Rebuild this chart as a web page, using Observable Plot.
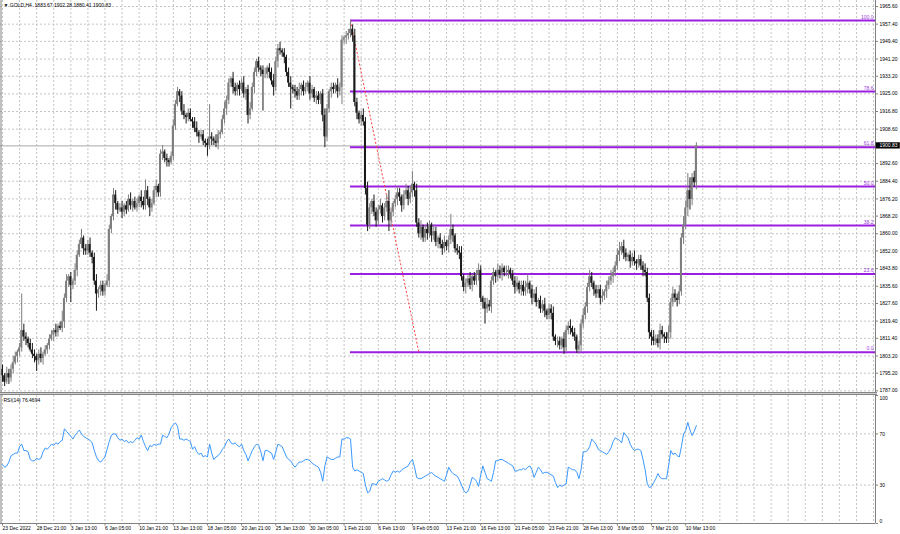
<!DOCTYPE html>
<html><head><meta charset="utf-8">
<script src="https://cdn.jsdelivr.net/npm/d3@7"></script>
<script src="https://cdn.jsdelivr.net/npm/@observablehq/plot@0.6"></script>
<style>
body{margin:0;background:#fff;}
#wrap{position:relative;width:900px;height:534px;overflow:hidden;background:#fff;}
#main{position:absolute;left:0;top:0;}
#rsi{position:absolute;left:0;top:395px;}
#sep{position:absolute;left:0;top:392px;width:877px;height:1px;border-top:1px solid #858585;border-bottom:1px solid #858585;background:#cfcfcf;}
</style></head>
<body><div id="wrap"><div id="main"></div><div id="sep"></div><div id="rsi"></div></div>
<script>
// ---- data (GOLD H4, 23 Dec 2022 – 13 Mar 2023) ----
const firstOpen = 1797;
const closes = [
1794,1791,1795,1793,1797,1800,1803,1805,1807,1815,
1812,1811,1809,1806,1804,1803,1801,1804,1802,1804,
1806,1808,1811,1813,1815,1814,1817,1816,1819,1830,
1838,1840,1836,1838,1843,1850,1855,1858,1853,1852,
1855,1851,1849,1838,1832,1834,1836,1833,1836,1838,
1862,1868,1878,1874,1871,1872,1870,1873,1871,1876,
1873,1875,1872,1874,1877,1875,1873,1880,1876,1872,
1874,1880,1882,1879,1897,1898,1895,1894,1893,1896,
1910,1920,1926,1924,1917,1915,1914,1916,1913,1912,
1909,1907,1905,1906,1903,1902,1901,1905,1904,1903,
1902,1906,1907,1913,1918,1922,1930,1932,1928,1926,
1929,1927,1930,1925,1927,1915,1918,1928,1935,1940,
1937,1936,1934,1934,1937,1935,1931,1928,1940,1946,
1945,1944,1942,1935,1930,1928,1927,1926,1924,1927,
1929,1926,1928,1930,1925,1927,1923,1924,1922,1925,
1915,1905,1918,1926,1928,1927,1929,1926,1928,1950,
1951,1952,1953,1955,1952,1921,1916,1913,1915,1912,
1881,1864,1872,1875,1870,1866,1871,1873,1868,1872,
1875,1866,1870,1874,1876,1879,1877,1873,1878,1880,
1876,1879,1883,1880,1865,1860,1863,1858,1862,1860,
1864,1859,1861,1856,1858,1855,1853,1856,1854,1857,
1862,1859,1853,1852,1851,1840,1835,1837,1839,1836,
1840,1838,1841,1843,1830,1828,1825,1827,1826,1838,
1842,1840,1843,1841,1844,1842,1842,1843,1841,1838,
1835,1837,1834,1836,1833,1835,1837,1834,1830,1832,
1828,1829,1825,1827,1824,1822,1825,1823,1812,1810,
1810,1808,1811,1807,1815,1817,1816,1814,1812,1806,
1808,1818,1822,1826,1835,1840,1837,1834,1832,1834,
1830,1831,1833,1836,1838,1840,1842,1845,1850,1852,
1854,1851,1849,1850,1847,1849,1847,1846,1848,1845,
1843,1842,1830,1814,1812,1810,1811,1809,1815,1813,
1812,1811,1814,1828,1832,1830,1829,1833,1858,1864,
1872,1880,1876,1886,1883.67,1900.83];
const upperWick = [
2,1,3,2,2,3,2,1,2,17, 3,2,1,2,3,2,1,2,3,1, 2,1,2,2,1,3,1,2,5,2,
3,1,2,1,3,2,2,4,1,2, 2,3,1,2,3,1,2,2,1,3, 2,1,3,2,1,2,3,1,2,2,
3,1,2,2,1,3,2,5,2,1, 2,2,3,1,2,3,1,2,1,2, 3,2,2,1,2,3,1,2,2,1,
2,3,1,2,2,1,2,15,2,1, 3,2,1,2,3,2,2,1,3,2, 1,2,2,3,1,2,3,2,2,1,
2,1,2,3,1,2,2,3,2,2, 3,1,2,1,2,3,1,2,2,3, 1,2,2,1,3,2,1,2,2,1,
2,3,2,1,2,2,1,3,2,2, 1,2,2,4.1,2,3,2,1,2,3, 2,3,2,1,3,2,2,3,1,2,
3,5,2,1,2,3,2,1,2,3, 2,3,6,1,3,2,3,1,2,3, 2,1,3,2,1,2,2,3,1,2,
7,2,1,2,2,3,1,2,2,3, 1,2,2,3,2,1,2,3,2,2, 2,1,3,2,2,1,3,2,1,2,
2,3,1,2,2,3,4,1,2,2, 3,1,2,2,3,1,2,2,3,1, 2,2,1,3,2,2,3,1,2,1,
2,2,3,2,2,3,2,1,2,2, 2,3,1,2,2,3,2,2,3,4, 2,3,2,1,2,2,3,1,2,2,
2,3,2,2,1,3,2,2,3,2, 1,2,3,2,3,2,2,3,2,4, 3,8,6,2,3,1.45];
const lowerWick = [
3,2,1,3,2,2,1,3,2,2, 2,3,2,1,2,3,5,2,2,3, 1,2,2,1,3,2,2,1,2,3,
2,3,8,2,2,3,1,2,3,2, 2,2,3,2,8,2,3,2,2,1, 3,2,2,3,2,1,3,2,2,1,
2,3,1,2,2,3,2,2,3,4, 2,1,3,2,2,3,2,3,2,1, 2,2,1,3,2,2,3,2,1,3,
2,2,3,1,2,2,5,2,3,2, 2,3,2,1,2,3,2,2,3,2, 2,3,1,2,3,4,2,1,3,2,
2,3,17,2,2,3,2,4,2,3, 2,2,3,2,2,10,2,3,2,2, 3,2,1,2,3,2,2,3,2,2,
3,5,2,2,3,2,2,3,2,8, 2,3,2,2,3,2,3,2,3,2, 3,3,2,3,2,3,2,2,3,2,
2,5,3,2,2,3,2,3,2,2, 3,2,2,3,2,2,3,2,2,3, 2,3,2,2,3,2,3,2,2,3,
2,3,2,2,3,2,2,3,2,2, 3,2,2,3,2,3,7,2,2,3, 2,3,2,2,3,2,2,3,2,2,
3,2,2,3,2,2,3,2,3,2, 2,3,2,2,3,2,2,3,2,2, 3,2,2,3,2,2,3,2,2,1.5,
2,3,2,2,3,2,2,3,2,2, 3,2,2,3,2,2,3,2,2,3, 2,3,2,2,3,2,2,3,2,2,
3,2,2,3,4,2,2,2,3,2, 3,2,2,3,2,2,3,2,2,3, 2,4,5,3,2,3.26];
const rsiValues = [
46,44,45,48,53,54,55,55,60,62, 57,57,56,50,49,49,51,50,51,56,
59,58,60,62,61,63,62,64,65,74, 72,70,68,66,69,71,73,70,68,67,
66,65,63,57,52,49,48,50,52,58, 64,69,70,70,67,65,66,64,65,63,
64,63,65,67,66,69,64,60,57,61, 60,62,61,62,62,69,68,67,70,75,
77,78.6,76,66,66,65,66,65,64,58, 60,56,54,55,52,53,52,62,55,50,
52,53,55,58,60,64,66,63,62,63, 61,60,62,57,54,49,53,57,60,62,
61,56,49,57,57,56,55,50,56,62, 61,60,56,52,50,49,46,44,46,48,
48,49,50,50,49,47,46,45,44,40, 33,45,52,51,50,50,51,52,52,66,
66,67,67,66,44,41,42,41,40,39, 30,24,25,31,31,30,33,34,35,34,
33,34,38,41,40,41,40,42,43,44, 45,48,50,44,36,35,35,36,37,38,
39,40,38,37,36,35,34,33,38,44, 41,39,38,37,34,30,26,24,25,30,
36,35,33,29,38,45,40,35,34,33, 40,49,49,50,50,49,48,47,46,45,
41,41,42,42,43,42,44,45,42,36, 40,44,42,39,40,40,39,38,37,32,
28,30,29,30,31,44,43,42,42,40, 35,42,56,56,57,60,66,64,62,58,
57,56,55,54,56,59,64,67,66,65, 63,71,69,67,62,59,57,58,58,57,
50,42,31,28,29,32,35,39,36,35, 35,35,45,57,54,55,53,52,60,70,
72.6,79,73,68.7,72,76.4694];
const priceTicks = [1965.60,1957.40,1949.40,1941.20,1933.20,1925.00,1916.80,1908.60,1892.60,1884.40,1876.20,1868.20,1860.00,1852.00,1843.80,1835.60,1827.60,1819.40,1811.40,1803.20,1795.20,1787.00];
const rsiTicks = [100,70,30,0];
const rsiLevels = [70,30];
const timeLabels = ["23 Dec 2022","28 Dec 21:00","3 Jan 13:00","6 Jan 05:00","10 Jan 21:00","13 Jan 13:00","18 Jan 05:00","20 Jan 21:00","25 Jan 13:00","30 Jan 05:00","1 Feb 21:00","6 Feb 13:00","9 Feb 05:00","13 Feb 21:00","16 Feb 13:00","21 Feb 05:00","23 Feb 21:00","28 Feb 13:00","3 Mar 05:00","7 Mar 21:00","10 Mar 13:00"];
const fibRatios = [0,23.6,38.2,50,61.8,78.6,100];
const fibHigh = 1959.1, fibLow = 1804.9;
const fibAnchorBars = [163,195];
const header = "\u25BC GOLD,H4  1883.67 1902.28 1880.41 1900.83";
const rsiTitle = "RSI(14) 76.4694";
const lastPrice = 1900.83;

// ---- layout ----
const barStep = 2.135, firstX = 2, plotRight = 875, W = 900;
const xMin = -firstX / barStep, xMax = (plotRight - firstX) / barStep;
const font = "'Liberation Sans', Arial, sans-serif";
const upCol = "#7e7e7e", dnCol = "#1a1a1a", gridCol = "#c4c4c4", axisCol = "#808080";
const labelsEvery = 16, gridEvery = 8;

const bars = closes.map((c, i) => {
  const o = i ? closes[i - 1] : firstOpen;
  return {i, o, c, h: Math.max(o, c) + upperWick[i], l: Math.min(o, c) - lowerWick[i], up: c >= o};
});
const gridX = d3.range(0, xMax, gridEvery);
const fib = fibRatios.map(r => ({r, p: fibLow + (fibHigh - fibLow) * r / 100}));

const main = Plot.plot({
  width: W, height: 393, marginLeft: 0, marginRight: W - plotRight, marginTop: 0, marginBottom: 0,
  style: {background: "transparent", fontFamily: font, fontSize: "5px", overflow: "visible"},
  x: {domain: [xMin, xMax], axis: null},
  y: {domain: [1785.77, 1968.39], axis: null},
  marks: [
    Plot.ruleY(priceTicks, {stroke: gridCol, strokeDasharray: "2,2"}),
    Plot.ruleX(gridX, {stroke: gridCol, strokeDasharray: "2,2"}),
    Plot.ruleY([lastPrice], {stroke: "#a8a8a8"}),
    Plot.ruleY(fib, {y: "p", x1: () => fibAnchorBars[0], x2: () => xMax, stroke: "#9a1fe0", strokeWidth: 2}),
    Plot.link([0], {x1: () => fibAnchorBars[0], y1: () => fibHigh, x2: () => fibAnchorBars[1], y2: () => fibLow, stroke: "#ff3c3c", strokeDasharray: "2,2", strokeWidth: 1}),
    Plot.ruleX(bars, {x: "i", y1: "l", y2: "h", stroke: d => d.up ? upCol : dnCol, strokeWidth: 1}),
    Plot.rect(bars, {x1: d => d.i - 0.47, x2: d => d.i + 0.47, y1: d => Math.min(d.o, d.c), y2: d => Math.max(d.o, d.c), fill: d => d.up ? upCol : dnCol}),
    Plot.text(fib, {x: () => xMax, y: "p", text: d => d.r.toFixed(1), textAnchor: "end", dx: -2, dy: -3.5, fill: "#9b3ddb"}),
    Plot.ruleX([xMin], {stroke: axisCol, dx: 0.5}),
    Plot.ruleX([xMax], {stroke: axisCol}),
    Plot.link(priceTicks, {x1: () => xMax, x2: () => xMax + 1.2, y1: d => d, y2: d => d, stroke: axisCol}),
    Plot.text(priceTicks, {x: () => xMax, y: d => d, text: d => d.toFixed(2), textAnchor: "start", dx: 4, fill: "#000"}),
    Plot.rect([lastPrice], {x1: () => xMax + 0.3, x2: () => xMax + 11.6, y1: d => d - 1.45, y2: d => d + 1.45, fill: "#000"}),
    Plot.text([lastPrice], {x: () => xMax, y: d => d, text: d => d.toFixed(2), textAnchor: "start", dx: 4, fill: "#fff"}),
    Plot.text([header], {frameAnchor: "top-left", dx: 3, dy: 3, lineAnchor: "top", textAnchor: "start", fill: "#000"})
  ]
});
document.getElementById("main").appendChild(main);

const rsiPlot = Plot.plot({
  width: W, height: 139, marginLeft: 0, marginRight: W - plotRight, marginTop: 0, marginBottom: 11,
  style: {background: "transparent", fontFamily: font, fontSize: "5px", overflow: "visible"},
  x: {domain: [xMin, xMax], axis: null},
  y: {domain: [0, 100], axis: null},
  marks: [
    Plot.ruleY(rsiLevels, {stroke: gridCol, strokeDasharray: "2,2"}),
    Plot.ruleX(gridX, {stroke: gridCol, strokeDasharray: "2,2"}),
    Plot.line(rsiValues, {x: (d, i) => i, y: d => d, stroke: "#3a98ff", strokeWidth: 1}),
    Plot.ruleX([xMin], {stroke: axisCol, dx: 0.5}),
    Plot.ruleX([xMax], {stroke: axisCol}),
    Plot.ruleY([0], {stroke: axisCol}),
    Plot.link(rsiTicks, {x1: () => xMax, x2: () => xMax + 1.2, y1: d => d, y2: d => d, stroke: axisCol}),
    Plot.text(rsiTicks.filter(d => d === 100), {x: () => xMax, y: d => d, text: d => String(d), textAnchor: "start", dx: 4, lineAnchor: "top", dy: 1, fill: "#000"}),
    Plot.text(rsiTicks.filter(d => d > 0 && d < 100), {x: () => xMax, y: d => d, text: d => String(d), textAnchor: "start", dx: 4, fill: "#000"}),
    Plot.text(rsiTicks.filter(d => d === 0), {x: () => xMax, y: d => d, text: d => String(d), textAnchor: "start", dx: 4, lineAnchor: "bottom", dy: -1, fill: "#000"}),
    Plot.link(timeLabels, {x1: (d, k) => k * labelsEvery, x2: (d, k) => k * labelsEvery, y1: () => 0, y2: () => -1.6, stroke: axisCol}),
    Plot.text(timeLabels, {x: (d, k) => k * labelsEvery, frameAnchor: "bottom", text: d => d, textAnchor: "start", dx: 0, dy: 5, lineAnchor: "middle", fill: "#000"}),
    Plot.text([rsiTitle], {frameAnchor: "top-left", dx: 3, dy: 3, lineAnchor: "top", textAnchor: "start", fill: "#000"})
  ]
});
document.getElementById("rsi").appendChild(rsiPlot);
</script>
</body></html>
